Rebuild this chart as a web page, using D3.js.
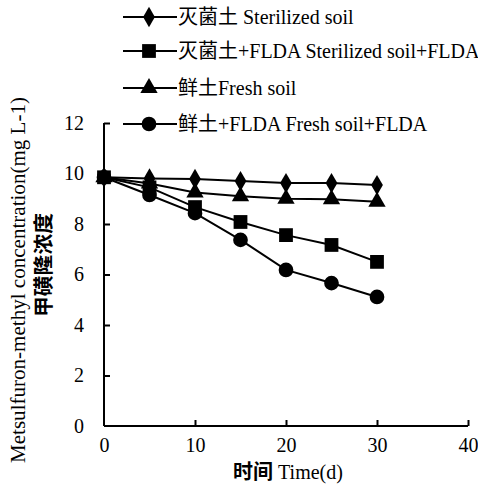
<!DOCTYPE html>
<html><head><meta charset="utf-8">
<script src="https://cdn.jsdelivr.net/npm/d3@7"></script>
<style>body{margin:0;background:#fff}svg{display:block}</style>
</head><body><div id="chart"></div>
<script>
const days = [0, 5, 10, 15, 20, 25, 30];
const sterilized = [9.85, 9.8, 9.78, 9.7, 9.62, 9.62, 9.54];
const sterilizedFLDA = [9.85, 9.45, 8.67, 8.08, 7.56, 7.17, 6.5];
const fresh = [9.85, 9.6, 9.25, 9.1, 9.0, 8.98, 8.88];
const freshFLDA = [9.85, 9.15, 8.43, 7.37, 6.18, 5.66, 5.11];
const seriesNames = ["灭菌土 Sterilized soil", "灭菌土+FLDA Sterilized soil+FLDA", "鲜土Fresh soil", "鲜土+FLDA Fresh soil+FLDA"];
const xTicks = [0, 10, 20, 30, 40];
const yTicks = [0, 2, 4, 6, 8, 10, 12];
const yLabel1 = "Metsulfuron-methyl concentration(mg L-1)";
const yLabel2 = "甲磺隆浓度";

const W = 478, H = 488;
const svg = d3.select("#chart").append("svg").attr("width", W).attr("height", H);
const x = d3.scaleLinear().domain([0, 40]).range([104, 468]);
const y = d3.scaleLinear().domain([0, 12]).range([426, 123]);
const font = "'Liberation Serif','Times New Roman',serif";
const cjk = "'Noto Sans CJK SC'";

const series = [
  {vals: sterilized, sym: d3.symbolDiamond},
  {vals: sterilizedFLDA, sym: d3.symbolSquare},
  {vals: fresh, sym: d3.symbolTriangle},
  {vals: freshFLDA, sym: d3.symbolCircle}
];
function symPath(sym) {
  if (sym === d3.symbolDiamond) return d3.symbol(sym, 120)();
  if (sym === d3.symbolSquare) return d3.symbol(sym, 190)();
  if (sym === d3.symbolTriangle) return d3.symbol(sym, 130)();
  return d3.symbol(sym, 170)();
}

// axes
const xAxis = d3.axisBottom(x).tickValues(xTicks).tickSizeInner(-6).tickSizeOuter(0).tickFormat(d3.format("d"));
const gx = svg.append("g").attr("transform", `translate(0,${y(0)})`).call(xAxis);
gx.select(".domain").attr("stroke-width", 2).attr("d", `M${x(0)},0H${x(40)}`);
gx.selectAll(".tick line").attr("stroke-width", 2);
gx.selectAll(".tick text").attr("y", 12).attr("dy", "0.71em").style("font-family", font).style("font-size", "20px");
gx.selectAll(".tick").filter(d => d === 0).select("line").remove();

const yAxis = d3.axisLeft(y).tickValues(yTicks).tickSizeInner(-6).tickSizeOuter(0).tickFormat(d3.format("d"));
const gy = svg.append("g").attr("transform", `translate(${x(0)},0)`).call(yAxis);
gy.select(".domain").attr("stroke-width", 2).attr("d", `M0,${y(12)}V${y(0)}`);
gy.selectAll(".tick line").attr("stroke-width", 2);
gy.selectAll(".tick text").attr("x", -20).style("font-family", font).style("font-size", "20px");
gy.selectAll(".tick").filter(d => d === 0).select("line").remove();

// lines and markers
const line = d3.line().x((d, i) => x(days[i])).y(d => y(d));
series.forEach(s => {
  svg.append("path").attr("d", line(s.vals)).attr("fill", "none").attr("stroke", "#000").attr("stroke-width", 2);
});
series.forEach(s => {
  svg.selectAll(null).data(s.vals).enter().append("path")
    .attr("d", symPath(s.sym))
    .attr("transform", (d, i) => `translate(${x(days[i])},${y(d)})`)
    .attr("fill", "#000");
});

// legend
const legY = [17, 51, 88, 124];
series.forEach((s, i) => {
  const g = svg.append("g").attr("transform", `translate(0,${legY[i]})`);
  g.append("line").attr("x1", 123).attr("x2", 177).attr("y1", 0).attr("y2", 0).attr("stroke", "#000").attr("stroke-width", 2);
  g.append("path").attr("d", symPath(s.sym)).attr("transform", "translate(149,0)").attr("fill", "#000");
  const t = g.append("text").attr("x", 178).attr("y", 0).attr("dy", "0.35em").style("font-size", "20px");
  const parts = seriesNames[i].match(/[\u4e00-\u9fff]+|[^\u4e00-\u9fff]+/g);
  parts.forEach(p => {
    const isCJK = /[\u4e00-\u9fff]/.test(p);
    t.append("tspan").text(p).style("font-family", isCJK ? cjk : font);
  });
});

// axis labels
const xl = svg.append("text").attr("x", 288).attr("y", 479).attr("text-anchor", "middle").style("font-size", "20px");
xl.append("tspan").text("时间").style("font-family", cjk).style("font-weight", "bold");
xl.append("tspan").text(" Time(d)").style("font-family", font);

svg.append("text").attr("transform", "translate(25,280) rotate(-90)").attr("text-anchor", "middle")
  .attr("textLength", 366).attr("lengthAdjust", "spacingAndGlyphs")
  .style("font-family", font).style("font-size", "21px").text(yLabel1);
svg.append("text").attr("transform", "translate(51,265) rotate(-90)").attr("text-anchor", "middle")
  .attr("textLength", 104).attr("lengthAdjust", "spacingAndGlyphs")
  .style("font-family", cjk).style("font-weight", "bold").style("font-size", "20px").text(yLabel2);
</script>
</body></html>
